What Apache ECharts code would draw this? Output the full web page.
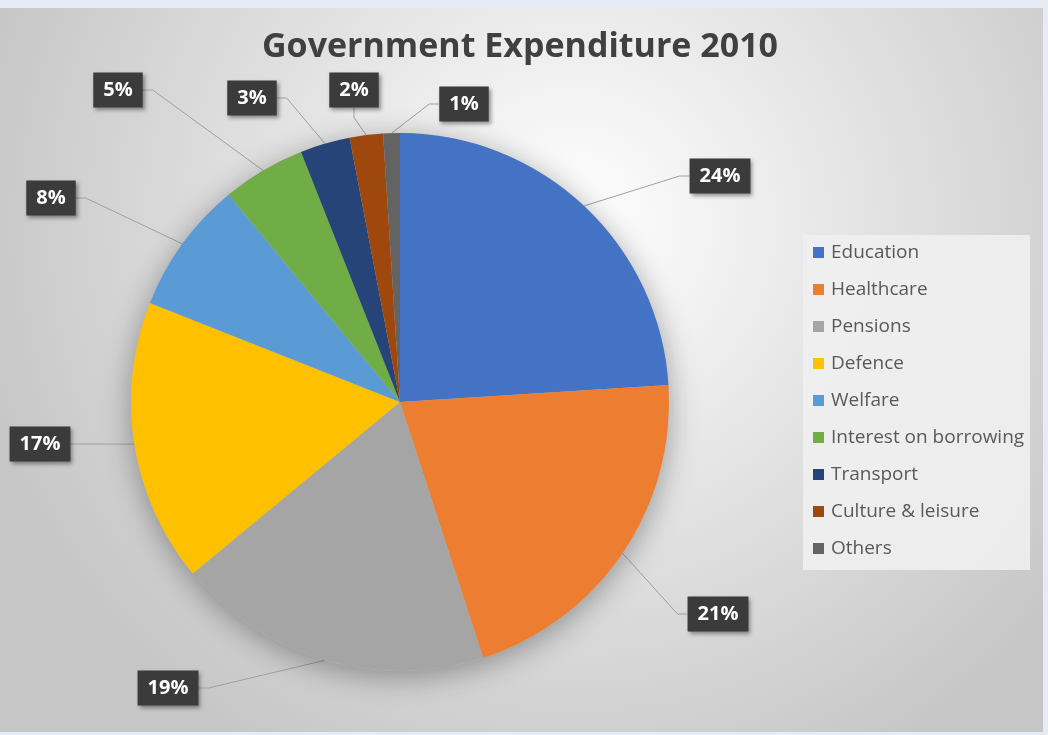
<!DOCTYPE html>
<html>
<head>
<meta charset="utf-8">
<script src="https://cdn.jsdelivr.net/npm/echarts@6/dist/echarts.min.js"></script>
<style>
  html, body { margin: 0; padding: 0; background: #e6ebf5; }
  #chart { position: absolute; left: 0; top: 8px; width: 1043px; height: 724px; }
</style>
</head>
<body>
<div id="chart"></div>
<script>
// data
const categories = ['Education', 'Healthcare', 'Pensions', 'Defence', 'Welfare',
  'Interest on borrowing', 'Transport', 'Culture & leisure', 'Others'];
const shares = [24, 21, 19, 17, 8, 5, 3, 2, 1];

const colors = ['#4472C4', '#ED7D31', '#A5A5A5', '#FFC000', '#5B9BD5',
  '#70AD47', '#264478', '#9E480E', '#636363'];

// where each data label box sits (px, inside the chart div)
const labelSpots = [[720, 168], [718, 606], [168, 680], [40, 436], [51, 190],
  [118, 82], [252, 90], [354, 82], [464, 96]];

const myChart = echarts.init(document.getElementById('chart'));

const option = {
  backgroundColor: {
    type: 'radial', x: 0.55, y: 0.3, r: 0.85,
    colorStops: [
      { offset: 0, color: '#ffffff' },
      { offset: 0.5, color: '#e2e2e2' },
      { offset: 1, color: '#c6c6c6' }
    ]
  },
  title: {
    text: 'Government Expenditure 2010',
    left: 515,
    textAlign: 'center',
    top: 17,
    textStyle: { fontFamily: 'Open Sans', fontWeight: 'bold', fontSize: 34, color: '#404040' }
  },
  legend: {
    orient: 'vertical',
    left: 803,
    top: 227,
    padding: [8, 6, 12, 10],
    itemGap: 18,
    itemWidth: 11,
    itemHeight: 11,
    icon: 'rect',
    backgroundColor: 'rgba(240,240,240,0.9)',
    textStyle: { fontFamily: 'Open Sans', fontSize: 19, color: '#595959', padding: [0, 0, 0, 2] },
    data: categories
  },
  series: [
    {
      // shadow disc behind the pie
      type: 'pie',
      silent: true,
      center: [400, 394],
      radius: 269,
      label: { show: false },
      labelLine: { show: false },
      itemStyle: { color: '#bbbbbb', shadowBlur: 30, shadowColor: 'rgba(0,0,0,0.35)', shadowOffsetY: 6 },
      data: [{ value: 1, name: '' }]
    },
    {
      type: 'pie',
      center: [400, 394],
      radius: 269,
      startAngle: 90,
      clockwise: true,
      avoidLabelOverlap: false,
      data: categories.map((c, i) => ({ name: c, value: shares[i], itemStyle: { color: colors[i] } })),
      label: {
        show: true,
        position: 'outside',
        formatter: '{c}%',
        fontFamily: 'Open Sans',
        fontWeight: 'bold',
        fontSize: 20,
        color: '#ffffff',
        backgroundColor: '#3b3b3b',
        padding: [8, 10, 7, 10],
        shadowBlur: 4,
        shadowColor: 'rgba(0,0,0,0.4)',
        shadowOffsetX: 2,
        shadowOffsetY: 2
      },
      labelLine: {
        show: true,
        length: 20,
        length2: 10,
        lineStyle: { color: '#a0a0a0', width: 1 }
      },
      labelLayout: function (params) {
        const p = labelSpots[params.dataIndex];
        return { x: p[0], y: p[1], align: 'center', verticalAlign: 'middle' };
      }
    }
  ]
};

myChart.setOption(option);
</script>
</body>
</html>
